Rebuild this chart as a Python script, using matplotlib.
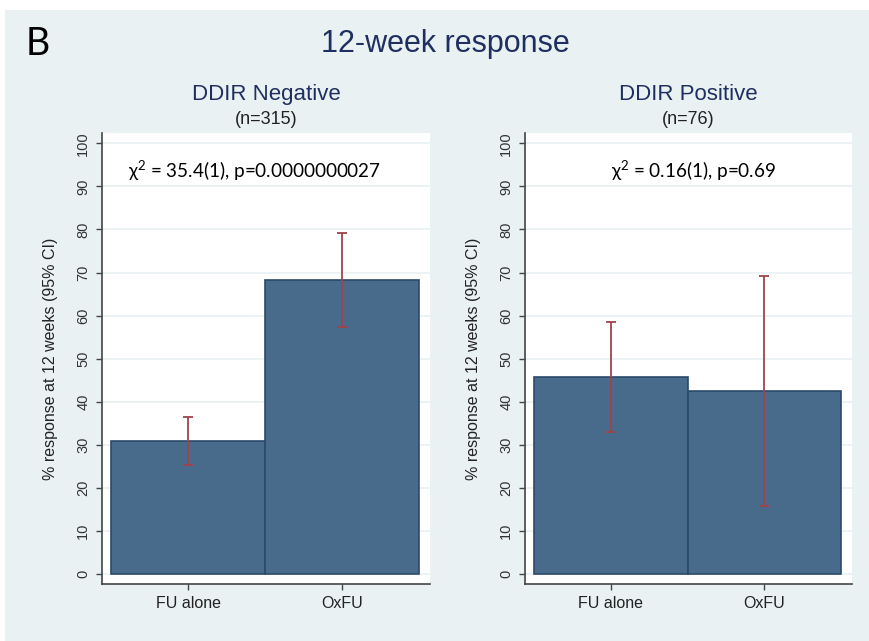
import matplotlib
matplotlib.use('Agg')
import matplotlib.pyplot as plt
from matplotlib.patches import Rectangle

# Données
groups = ['FU alone', 'OxFU']
panel_titles = ['DDIR Negative', 'DDIR Positive']
panel_n = ['(n=315)', '(n=76)']
neg_resp = [30.8, 68.3]
neg_lo = [25.3, 57.3]
neg_hi = [36.4, 79.3]
pos_resp = [45.7, 42.4]
pos_lo = [33.0, 15.9]
pos_hi = [58.5, 69.2]
chi_text = ['χ$^2$ = 35.4(1), p=0.0000000027', 'χ$^2$ = 0.16(1), p=0.69']
yticks = list(range(0, 101, 10))

bg = '#e9f1f3'
bar_col = '#486a8b'
edge_col = '#2b4a6b'
err_col = '#a0434b'
navy = '#1f2f5f'
sans = ['Liberation Sans', 'DejaVu Sans']
chi_font = ['Lato', 'DejaVu Sans']

plt.rcParams['mathtext.fontset'] = 'custom'
plt.rcParams['mathtext.rm'] = 'Lato'
plt.rcParams['mathtext.default'] = 'rm'

fig = plt.figure(figsize=(8.69, 6.41), dpi=100, facecolor='white')
fig.patches.append(Rectangle((5 / 869, 0), 1, 1 - 10 / 641, transform=fig.transFigure,
                             facecolor=bg, edgecolor='none', zorder=-10))

fig.text(26 / 869, 1 - 55 / 641, 'B', fontsize=27, family=chi_font, color='black', va='baseline')
fig.text(445 / 869, 1 - 52 / 641, '12-week response', fontsize=22, family=sans, color=navy,
         ha='center', va='baseline')

positions = [[102 / 869, 0.0889, 328 / 869, 0.7036],
             [525 / 869, 0.0889, 327 / 869, 0.7036]]
data = [(neg_resp, neg_lo, neg_hi), (pos_resp, pos_lo, pos_hi)]

for i in range(2):
    ax = fig.add_axes(positions[i])
    resp, lo, hi = data[i]
    x = list(range(len(groups)))
    ax.bar(x, resp, width=1.0, color=bar_col, edgecolor=edge_col, linewidth=1.2, zorder=2)
    err = [[r - l for r, l in zip(resp, lo)], [h - r for r, h in zip(resp, hi)]]
    ax.errorbar(x, resp, yerr=err, fmt='none', ecolor=err_col, elinewidth=1.3,
                capsize=3.3, capthick=1.3, zorder=3)
    ax.set_xlim(-0.56, 1.57)
    ax.set_ylim(-2.3, 102.4)
    ax.set_yticks(yticks)
    ax.set_yticklabels([str(t) for t in yticks], rotation=90, va='center',
                       fontsize=10.5, family=sans, color='#333333')
    ax.set_xticks(x)
    ax.set_xticklabels(groups, fontsize=11.5, family=sans, color='#222222')
    ax.tick_params(axis='both', length=4.5, width=1, color='#444444', pad=4)
    ax.yaxis.grid(True, color=bg, linewidth=1.2, zorder=0)
    ax.set_axisbelow(True)
    for s in ['top', 'right']:
        ax.spines[s].set_visible(False)
    for s in ['left', 'bottom']:
        ax.spines[s].set_color('#444444')
        ax.spines[s].set_linewidth(1.2)
    ax.set_ylabel('% response at 12 weeks (95% CI)', fontsize=11.5, family=sans,
                  color='#222222', labelpad=13)
    ax.text(0.5, 1.073, panel_titles[i], transform=ax.transAxes, ha='center', va='baseline',
            fontsize=16, family=sans, color=navy)
    ax.text(0.5, 1.02, panel_n[i], transform=ax.transAxes, ha='center', va='baseline',
            fontsize=13, family=sans, color='#222222')
    if i == 0:
        ax.text(0.08, 0.90, chi_text[i], transform=ax.transAxes, ha='left', va='baseline',
                fontsize=13.6, family=chi_font, color='black')
    else:
        ax.text(0.514, 0.90, chi_text[i], transform=ax.transAxes, ha='center', va='baseline',
                fontsize=13.6, family=chi_font, color='black')

fig.savefig('out.png', dpi=100, facecolor=fig.get_facecolor())
